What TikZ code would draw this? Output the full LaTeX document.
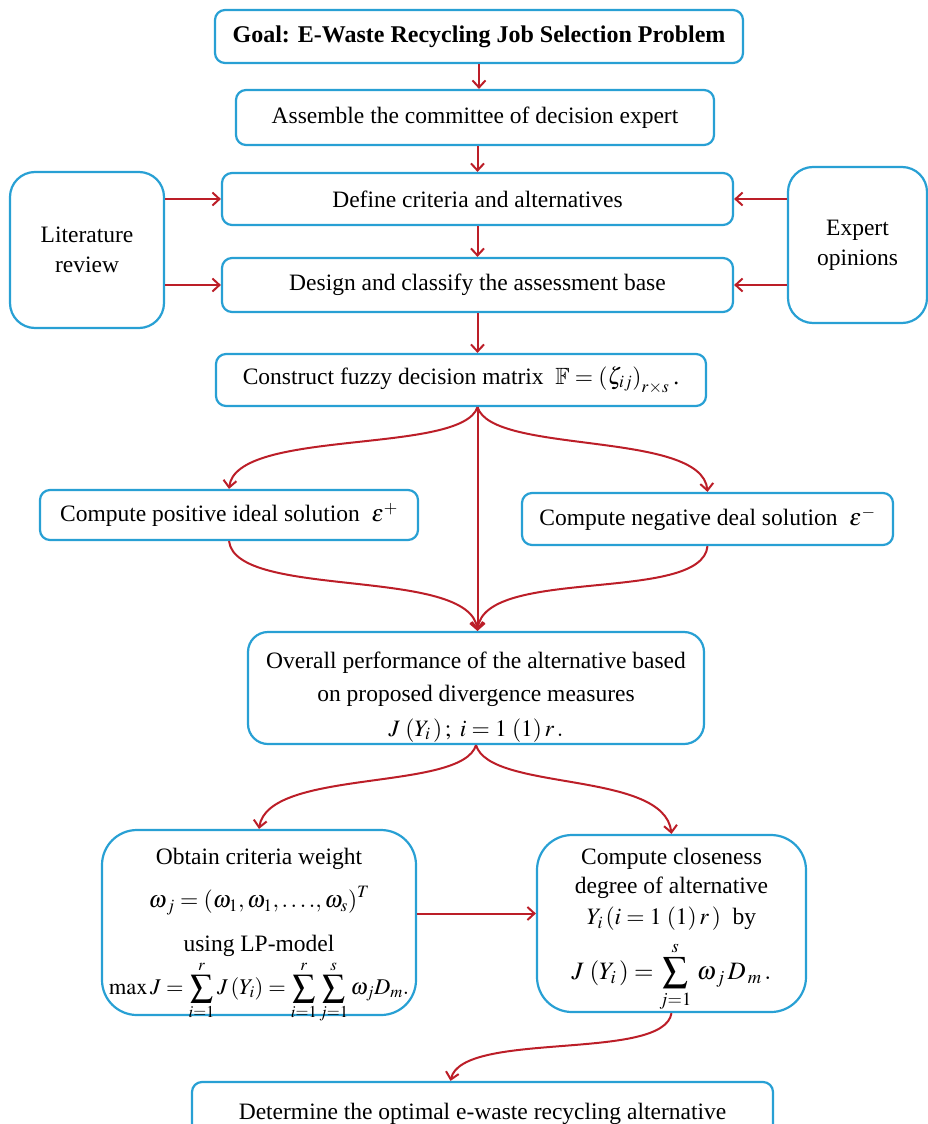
\documentclass[tikz,border=0pt]{standalone}
\usepackage{amsmath,amssymb}
\usepackage{mathptmx}
\usepackage{fontspec}
\setmainfont{Liberation Serif}
\usetikzlibrary{arrows.meta}
\definecolor{boxblue}{RGB}{40,160,212}
\definecolor{arrred}{RGB}{188,30,40}
\newcommand{\zbox}[2]{\raisebox{#1}[0pt][0pt]{\begin{tabular}{@{}c@{}}#2\end{tabular}}}
\tikzset{
  box/.style={draw=boxblue, line width=2.2pt, rounded corners=10pt, align=center,
    inner sep=2pt, fill=white, font=\fontsize{23.5}{30}\selectfont},
  conn/.style={draw=arrred, line width=2pt,
    -{Straight Barb[length=7pt,width=13pt]}},
}
\begin{document}
\begin{tikzpicture}[x=1pt,y=-1pt]
\useasboundingbox[fill=white] (0,0) rectangle (928,1124);

\node[box, minimum width=528, minimum height=53, font=\fontsize{24}{28}\selectfont\bfseries] (goal) at (479,36.5) {Goal: E-Waste Recycling Job Selection Problem};
\node[box, minimum width=478, minimum height=55] (assemble) at (475,117.5) {Assemble the committee of decision expert};
\node[box, minimum width=511, minimum height=52] (define) at (477.5,199) {Define criteria and alternatives};
\node[box, minimum width=511, minimum height=54] (design) at (477.5,285) {Design and classify the assessment base};
\node[box, minimum width=154, minimum height=156, rounded corners=25pt] (lit) at (87,250) {Literature\\review};
\node[box, minimum width=139, minimum height=156, rounded corners=25pt] (expert) at (857.5,245) {Expert\\opinions};
\node[box, minimum width=490, minimum height=52] (construct) at (461,380) {Construct fuzzy decision matrix\ \ $\mathbb{F}=\left(\zeta_{ij}\right)_{r\times s}$\,.};
\node[box, minimum width=378, minimum height=50] (pos) at (229,515) {Compute positive ideal solution\ \ $\varepsilon^{+}$};
\node[box, minimum width=371, minimum height=52] (neg) at (707.5,519) {Compute negative deal solution\ \ $\varepsilon^{-}$};
\node[box, minimum width=456, minimum height=112, rounded corners=20pt] (overall) at (476,688) {\zbox{-14pt}{Overall performance of the alternative based\\[3pt] on proposed divergence measures\\[5pt] $J\,\left(Y_i\,\right);\ i=1\,\left(1\right)r\,.$}};
\node[box, minimum width=314, minimum height=185, rounded corners=35pt] (obtain) at (259,922.5) {\zbox{-17pt}{Obtain criteria weight\\[12pt] $\omega_{\,j}=\left(\omega_1,\omega_1,\ldots.,\omega_s\right)^T$\\[14pt] using LP-model\\[0pt] {\fontsize{22.5}{27}\selectfont$\max J=\displaystyle\sum_{i=1}^{r}J\left(Y_i\right)=\sum_{i=1}^{r}\sum_{j=1}^{s}\omega_j D_m.$}}};
\node[box, minimum width=269, minimum height=177, rounded corners=35pt] (close) at (671.5,923.5) {\zbox{-10pt}{Compute closeness\\[-1pt] degree of alternative\\[1pt] $Y_i\left(i=1\,\left(1\right)r\,\right)$\ \ by\\[8pt] {\fontsize{25}{30}\selectfont$J\,\left(Y_i\,\right)=\displaystyle\sum_{j=1}^{s}\,\omega_{\,j}\,D_{\,m}\,.$}}};
\node[box, minimum width=581, minimum height=68] (determine) at (482.5,1116) {\raisebox{9pt}{Determine the optimal e-waste recycling alternative}};

\coordinate (cs) at (design.south |- construct.south);
\coordinate (dt) at ([xshift=-32pt]determine.north);

\draw[conn] (goal.south) -- (goal.south |- assemble.north);
\draw[conn] (assemble.south -| define.south) -- (define.north);
\draw[conn] (define.south) -- (design.north);
\draw[conn] (design.south) -- (design.south |- construct.north);
\draw[conn] (lit.east |- define.west) -- (define.west);
\draw[conn] (lit.east |- design.west) -- (design.west);
\draw[conn] (expert.west |- define.east) -- (define.east);
\draw[conn] (expert.west |- design.east) -- (design.east);

\draw[conn] (cs) .. controls (462,455) and (236,428) .. (pos.north);
\draw[conn] (cs) .. controls (492,455) and (702,430) .. (neg.north);
\draw[conn] (cs) -- (cs |- overall.north);
\draw[conn] (pos.south) .. controls (236,600) and (470,566) .. (cs |- overall.north);
\draw[conn] (neg.south) .. controls (702,604) and (484,566) .. (cs |- overall.north);

\draw[conn] (overall.south) .. controls (462,792) and (268,768) .. (obtain.north);
\draw[conn] (overall.south) .. controls (490,792) and (664,770) .. (close.north);
\draw[conn] ([yshift=9pt]obtain.east) -- ([yshift=9pt]obtain.east -| close.west);
\draw[conn] (close.south) .. controls (664,1062) and (462,1030) .. (dt);
\end{tikzpicture}
\end{document}
